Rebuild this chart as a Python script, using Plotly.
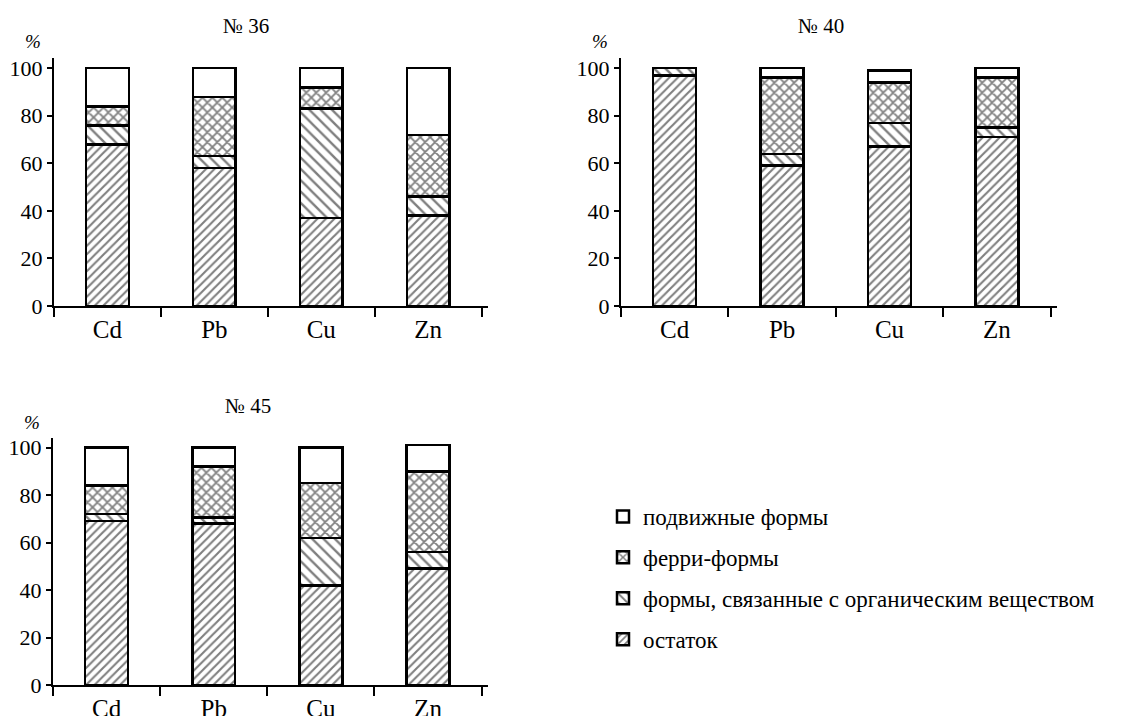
import plotly.graph_objects as go

elements = ["Cd", "Pb", "Cu", "Zn"]

# sample № 36
s36_residue = [68, 58, 37, 38]
s36_organic = [8, 5, 46, 8]
s36_ferri = [8, 25, 9, 26]
s36_mobile = [16, 12, 8, 28]

# sample № 40
s40_residue = [97, 59, 67, 71]
s40_organic = [3, 5, 10, 4]
s40_ferri = [0, 32, 17, 21]
s40_mobile = [0, 4, 5, 4]

# sample № 45
s45_residue = [69, 68, 42, 49]
s45_organic = [3, 2.5, 20, 7]
s45_ferri = [12, 21.5, 23, 34]
s45_mobile = [16, 8, 15, 11]

series_names = ["остаток", "формы, связанные с органическим веществом", "ферри-формы", "подвижные формы"]
legend_ranks = [4, 3, 2, 1]
patterns = ["/", "\\", "x", ""]
pattern_sizes = [6, 8, 7, 6]
pattern_solid = [0.35, 0.3, 0.45, 0.3]

samples = [
    ("№ 36", [s36_residue, s36_organic, s36_ferri, s36_mobile]),
    ("№ 40", [s40_residue, s40_organic, s40_ferri, s40_mobile]),
    ("№ 45", [s45_residue, s45_organic, s45_ferri, s45_mobile]),
]

W, H = 1132, 716
FONT = "Liberation Serif, Times New Roman, Times, serif"


def px(v):
    return v / W


def py(v):
    return 1 - v / H


fig = go.Figure()

for i, (title, series) in enumerate(samples):
    xa = "x" if i == 0 else f"x{i+1}"
    ya = "y" if i == 0 else f"y{i+1}"
    for j, vals in enumerate(series):
        fig.add_trace(go.Bar(
            x=elements, y=vals, name=series_names[j],
            xaxis=xa, yaxis=ya,
            legendgroup=series_names[j], showlegend=(i == 0),
            legendrank=legend_ranks[j] * 100,
            marker=dict(color="white",
                        line=dict(color="black", width=2.5),
                        pattern=dict(shape=patterns[j], fgcolor="black", bgcolor="white",
                                     size=pattern_sizes[j], solidity=pattern_solid[j])),
            width=0.4,
        ))

# panel geometry (pixels in the reference page)
panels = [
    dict(x0=54, x1=488, yb=306, yt=58, ytop=104.3, tdx=-25),
    dict(x0=621, x1=1057, yb=306, yt=58, ytop=104.3, tdx=-18),
    dict(x0=53, x1=488, yb=685, yt=438, ytop=104.0, tdx=-23),
]

layout = dict(
    width=W, height=H,
    margin=dict(l=0, r=0, t=0, b=0, autoexpand=False),
    paper_bgcolor="white", plot_bgcolor="white",
    barmode="stack",
    font=dict(family=FONT, color="black"),
    showlegend=True,
    legend=dict(x=px(603), y=py(495), xanchor="left", yanchor="top",
                traceorder="grouped", tracegroupgap=8,
                font=dict(family=FONT, size=23, color="black"),
                bgcolor="rgba(0,0,0,0)"),
)

annotations = []
for i, p in enumerate(panels):
    sfx = "" if i == 0 else str(i + 1)
    layout["xaxis" + sfx] = dict(
        domain=[px(p["x0"]), px(p["x1"])], anchor="y" + sfx,
        type="category", range=[-0.5, 3.56],
        tickson="boundaries", ticks="outside", ticklen=9, tickwidth=1.5, tickcolor="black",
        showline=True, linecolor="black", linewidth=2,
        showgrid=False, zeroline=False, automargin=False,
        tickfont=dict(family=FONT, size=25, color="black"),
        fixedrange=True,
    )
    layout["yaxis" + sfx] = dict(
        domain=[py(p["yb"]), py(p["yt"])], anchor="x" + sfx,
        range=[0, p["ytop"]],
        tickvals=[0, 20, 40, 60, 80, 100],
        ticks="outside", ticklen=5, tickwidth=1.5, tickcolor="black",
        showline=True, linecolor="black", linewidth=2,
        showgrid=False, zeroline=False, automargin=False,
        tickfont=dict(family=FONT, size=22, color="black"),
        fixedrange=True,
    )
    cx = (p["x0"] + p["x1"]) / 2 + p["tdx"]
    annotations.append(dict(text=samples[i][0], x=px(cx), y=py(p["yt"] - 32),
                            xref="paper", yref="paper", showarrow=False,
                            font=dict(family=FONT, size=21, color="black"),
                            xanchor="center", yanchor="middle"))
    annotations.append(dict(text="<i>%</i>", x=px(p["x0"] - 21), y=py(p["yt"] - 16),
                            xref="paper", yref="paper", showarrow=False,
                            font=dict(family=FONT, size=19, color="black"),
                            xanchor="center", yanchor="middle"))

layout["annotations"] = annotations
fig.update_layout(**layout)

fig.write_html(
    "out.html",
    config={"displayModeBar": False},
    post_script=("var d=document.getElementById('{plot_id}');"
                 "d.style.position='fixed';d.style.top='0';d.style.left='0';"
                 "document.body.style.margin='0';document.body.style.overflow='hidden';"),
)
